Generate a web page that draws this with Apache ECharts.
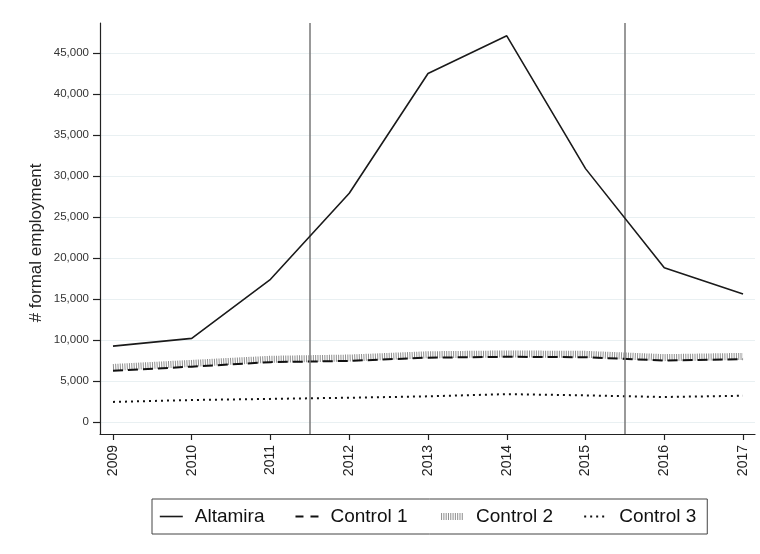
<!DOCTYPE html>
<html>
<head>
<meta charset="utf-8">
<script src="https://cdn.jsdelivr.net/npm/echarts@6/dist/echarts.min.js"></script>
<style>
  html, body { margin: 0; padding: 0; background: #fff; }
  #chart { width: 760px; height: 554px; }
</style>
</head>
<body>
<div id="chart"></div>
<script>
// Formal employment, Altamira vs. control municipalities, 2009-2017
const years = [2009, 2010, 2011, 2012, 2013, 2014, 2015, 2016, 2017];
const altamira = [9250, 10200, 17400, 27900, 42500, 47100, 30900, 18800, 15600];
const control1 = [6250, 6750, 7300, 7450, 7850, 7950, 7900, 7500, 7650];
const control2 = [6650, 7150, 7650, 7800, 8200, 8300, 8250, 7850, 8000];
const control3 = [2450, 2680, 2820, 2960, 3130, 3400, 3250, 3050, 3200];
const yTicks = [0, 5000, 10000, 15000, 20000, 25000, 30000, 35000, 40000, 45000];
const periodBreaks = [2011.5, 2015.5];
const seriesNames = ['Altamira', 'Control 1', 'Control 2', 'Control 3'];

const pairs = arr => years.map((y, i) => [y, arr[i]]);
const fontFamily = '"Liberation Sans", Arial, sans-serif';

// line styles shared by the plotted series and their legend keys
const styles = {
  'Altamira':  { color: '#1a1a1a', width: 1.6, type: 'solid' },
  'Control 1': { color: '#111',    width: 2,   type: [10, 5] },
  'Control 2': { color: '#8e8e8e', width: 7,   type: [1, 1.3] },
  'Control 3': { color: '#111',    width: 2,   type: [2, 4] }
};
const legendKeys = {
  'Altamira':  { color: '#1a1a1a', width: 1.6, type: 'solid' },
  'Control 1': { color: '#111',    width: 2,   type: [8, 7] },
  'Control 2': { color: '#8e8e8e', width: 7,   type: [1, 1.3] },
  'Control 3': { color: '#111',    width: 2,   type: [2, 4] }
};

const chart = echarts.init(document.getElementById('chart'), null, { renderer: 'canvas' });
chart.setOption({
  backgroundColor: '#fff',
  animation: false,
  textStyle: { fontFamily: fontFamily },
  grid: { left: 100, top: 23, right: 5, bottom: 120, containLabel: false },
  xAxis: {
    type: 'value',
    min: 2008.835,
    max: 2017.152,
    axisLine: { show: true, onZero: false, lineStyle: { color: '#222', width: 1.2 } },
    axisTick: { show: true, length: 6, customValues: years, lineStyle: { color: '#222', width: 1.2 } },
    axisLabel: {
      customValues: years, rotate: 90, margin: 11,
      fontSize: 14, color: '#222', fontFamily: fontFamily,
      formatter: v => String(v)
    },
    splitLine: { show: false }
  },
  yAxis: {
    type: 'value',
    min: -1463,
    max: 48659,
    axisLine: { show: true, onZero: false, lineStyle: { color: '#222', width: 1.2 } },
    axisTick: { show: true, length: 7, customValues: yTicks, lineStyle: { color: '#222', width: 1.2 } },
    axisLabel: {
      customValues: yTicks, margin: 11, fontSize: 11.5, color: '#333', fontFamily: fontFamily,
      formatter: v => v.toLocaleString('en-US')
    },
    splitLine: { show: true, lineStyle: { color: '#e9f0f2', width: 1.2 } }
  },
  graphic: [{
    type: 'text',
    x: 36, y: 243,
    rotation: Math.PI / 2,
    style: {
      text: '# formal employment',
      font: '17px ' + fontFamily,
      fill: '#222',
      textAlign: 'center',
      textVerticalAlign: 'middle'
    }
  }],
  legend: {
    left: 152, top: 499,
    data: seriesNames.map(n => ({
      name: n,
      itemStyle: { opacity: 0, color: 'transparent', borderColor: 'transparent', borderWidth: 0 },
      lineStyle: legendKeys[n]
    })),
    itemWidth: 23, itemHeight: 14, itemGap: 30,
    padding: [8, 11, 8, 7],
    borderColor: '#444', borderWidth: 1,
    textStyle: { fontSize: 19, color: '#111', fontFamily: fontFamily, padding: [0, 0, 0, 7] }
  },
  series: [
    {
      name: seriesNames[0], type: 'line', data: pairs(altamira),
      symbol: 'none', z: 5,
      lineStyle: styles['Altamira'],
      itemStyle: { color: styles['Altamira'].color },
      markLine: {
        silent: true, symbol: 'none', label: { show: false },
        lineStyle: { color: '#777', width: 1.5, type: 'solid' },
        data: periodBreaks.map(v => ({ xAxis: v }))
      }
    },
    {
      name: seriesNames[1], type: 'line', data: pairs(control1),
      symbol: 'none', z: 4,
      lineStyle: styles['Control 1'],
      itemStyle: { color: styles['Control 1'].color }
    },
    {
      name: seriesNames[2], type: 'line', data: pairs(control2),
      symbol: 'none', z: 3,
      lineStyle: styles['Control 2'],
      itemStyle: { color: styles['Control 2'].color }
    },
    {
      name: seriesNames[3], type: 'line', data: pairs(control3),
      symbol: 'none', z: 3,
      lineStyle: styles['Control 3'],
      itemStyle: { color: styles['Control 3'].color }
    }
  ]
});
</script>
</body>
</html>
